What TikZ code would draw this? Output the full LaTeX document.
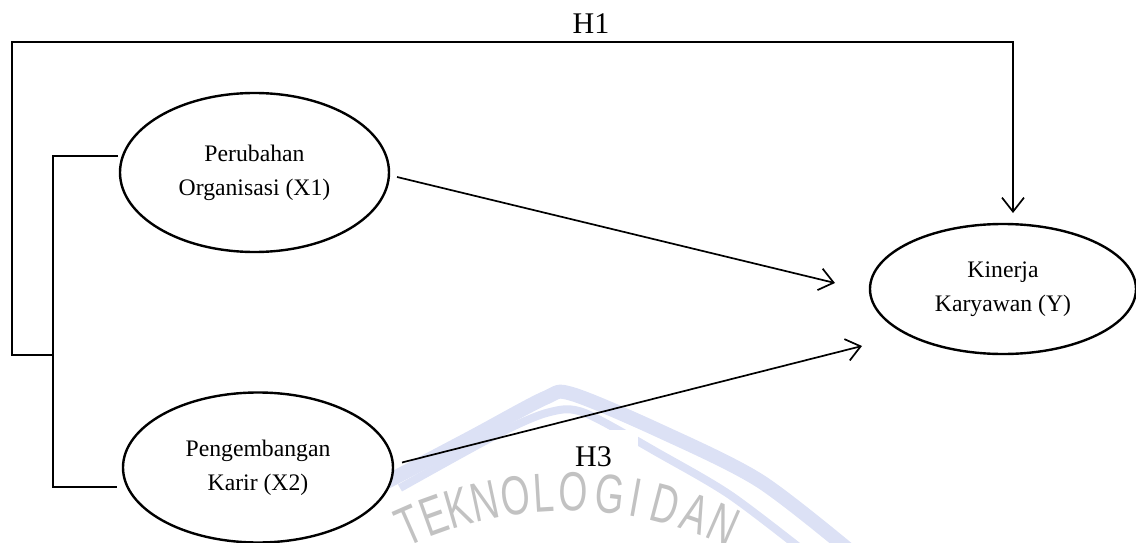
\documentclass[tikz,border=0pt]{standalone}
\usepackage{fontspec}
\setmainfont{Liberation Serif}
\newfontfamily\wmfont[FakeStretch=0.68]{Liberation Sans}
\usetikzlibrary{arrows.meta,shapes.geometric,calc}
\definecolor{wmblue}{HTML}{DCE1F5}
\definecolor{wmgray}{HTML}{C2C2C2}
\tikzset{
 var/.style={ellipse, draw, fill=white, line width=2.4pt, inner sep=0pt, outer sep=0pt, align=center, font=\fontsize{23.7}{34}\selectfont},
 conn/.style={line width=1.7pt},
 arr/.style={conn, -{Straight Barb[length=14pt,width=22pt]}},
 hlabel/.style={font=\fontsize{30}{34}\selectfont, inner sep=0pt},
 wmband/.style={wmblue, line join=round, line cap=butt},
 wmletter/.style={text=wmgray, font=\wmfont\fontsize{55}{55}\selectfont, inner sep=0pt, anchor=center}
}
\begin{document}
\begin{tikzpicture}[x=1pt,y=-1pt]
\useasboundingbox (0,0) rectangle (1136,543);
% watermark
\begin{scope}
\clip (0,0) rectangle (1136,543);
\draw[wmband, line width=14pt] plot[smooth] coordinates {(360,496) (470,438) (545,398) (572,394) (660,431) (760,481) (855,555)};
\draw[wmband, line width=8pt] plot[smooth] coordinates {(400,488) (500,433) (550,412) (585,413) (660,454) (730,495) (805,552)};
\foreach \l/\a in {T/-113.7, E/-109.8, K/-106.1, N/-102.1, O/-97.5, L/-93.4, O/-89.0, G/-83.7, I/-79.8, D/-75.4, A/-70.8, N/-66.4}
  \node[wmletter, rotate={-(\a+90)}] at ({567+392*cos(\a)},{884+392*sin(\a)}) {\l};
\end{scope}
% nodes
\node[var, minimum width=269pt, minimum height=159pt] (X1) at (254.5,172.5) {Perubahan\\Organisasi (X1)};
\node[var, minimum width=270pt, minimum height=150pt] (X2) at (258,467.5) {Pengembangan\\Karir (X2)};
\node[var, minimum width=266pt, minimum height=130pt] (Y) at (1003,289) {Kinerja\\Karyawan (Y)};
\node[hlabel] (h1) at (591,24) {H1};
\node[fill=white, inner sep=0pt, minimum width=78pt, minimum height=40pt] (h3box) at (599,450) {};
\node[hlabel] (h3) at ($(h3box)+(-5.5,7)$) {H3};
% bracket
\coordinate (s1) at ($(X1.west)+(-2,-16.5)$);
\coordinate (s2) at ($(X2.west)+(-6,19.5)$);
\draw[conn] (s1) -- ++(-65,0) coordinate (b1) -- (b1 |- s2) coordinate (b2) -- (s2);
\coordinate (j) at ($(b1)!0.601!(b2)$);
% H1 path
\draw[arr] (j) -- ++(-41,0) |- ($(Y.north)+(10,-182)$) -- ($(Y.north)+(10,-11)$);
% direct arrows
\draw[arr] ($(X1.east)+(8,4.5)$) -- ($(Y.west)+(-35,-6)$);
\draw[arr] ($(X2.east)+(9,-5)$) -- ($(Y.west)+(-8,57)$);
\end{tikzpicture}
\end{document}
